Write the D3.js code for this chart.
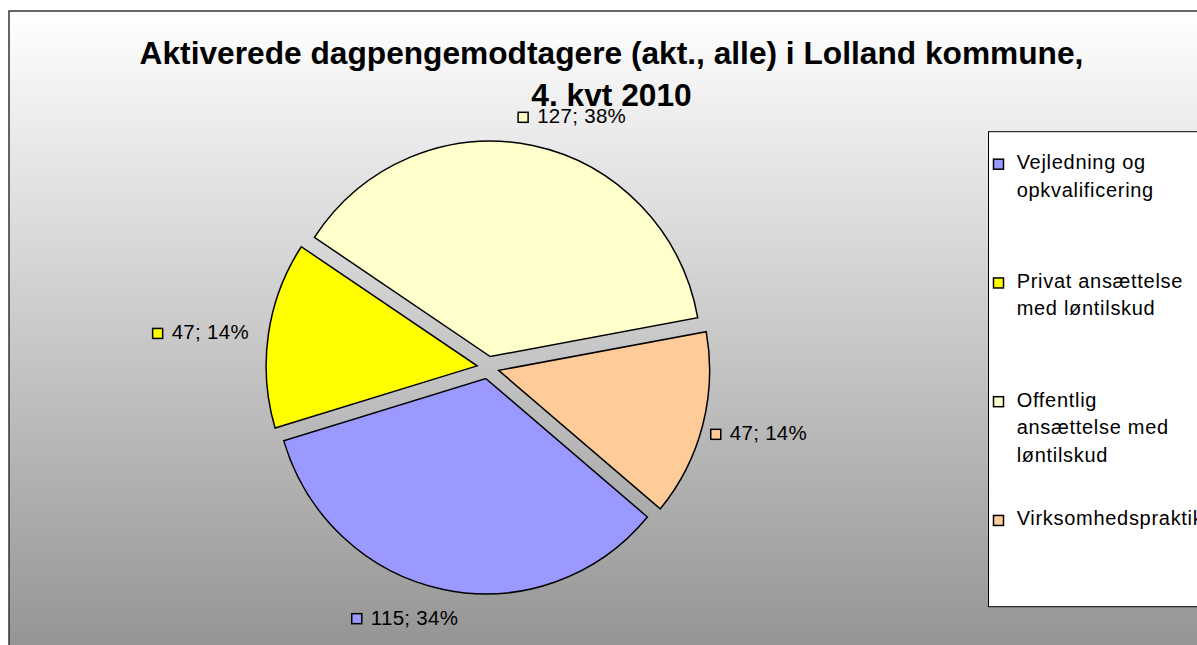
<!DOCTYPE html>
<html><head><meta charset="utf-8">
<script src="https://cdn.jsdelivr.net/npm/d3@7"></script>
<style>html,body{margin:0;padding:0;overflow:hidden;background:#fff}</style>
</head><body><svg id="c" width="1197" height="645"></svg>
<script>
// ---- data ----
const categories = ["Vejledning og opkvalificering", "Privat ansættelse med løntilskud", "Offentlig ansættelse med løntilskud", "Virksomhedspraktik"];
const legendLines = [["Vejledning og", "opkvalificering"], ["Privat ansættelse", "med løntilskud"], ["Offentlig", "ansættelse med", "løntilskud"], ["Virksomhedspraktik"]];
const values = [115, 47, 127, 47];
const colors = ["#9999FF", "#FFFF00", "#FFFFCC", "#FFCC99"];
const titleLines = ["Aktiverede dagpengemodtagere (akt., alle) i Lolland kommune,", "4. kvt 2010"];

// ---- layout (not data) ----
const W = 1197, H = 645;
const FONT = "'Liberation Sans', Arial, sans-serif";
const cx = 488, cy = 367.5, R = 211, yScale = 1.021, explode = 11;
const startDeg = 130;
const labelNudge = [[-26, 11], [-12, 0], [27, -13], [2, 3]];

const svg = d3.select("#c");
const defs = svg.append("defs");
const grad = defs.append("linearGradient").attr("id", "bg")
  .attr("gradientUnits", "userSpaceOnUse").attr("x1", 0).attr("y1", 11).attr("x2", 0).attr("y2", 645);
grad.append("stop").attr("offset", 0).attr("stop-color", "#ffffff");
grad.append("stop").attr("offset", 1).attr("stop-color", "#959595");

svg.append("rect").attr("x", 9).attr("y", 11).attr("width", 1200).attr("height", 660)
  .attr("fill", "url(#bg)").attr("stroke", "#333").attr("stroke-width", 1.5);

// title
svg.append("g").selectAll("text").data(titleLines).join("text")
  .attr("x", 611.5).attr("y", (d, i) => 64 + i * 41.5)
  .attr("text-anchor", "middle").attr("font-family", FONT).attr("font-weight", "bold")
  .attr("font-size", 31.7).attr("fill", "#000").text(d => d);

// pie
const total = d3.sum(values);
const pct = d3.format(".0%");
const pie = d3.pie().sort(null).value(d => d)
  .startAngle(startDeg * Math.PI / 180).endAngle((startDeg + 360) * Math.PI / 180);
const arcs = pie(values);
const arc = d3.arc().innerRadius(0).outerRadius(R);

const gPie = svg.append("g").attr("transform", `translate(${cx},${cy}) scale(1,${yScale})`);
gPie.selectAll("path").data(arcs).join("path")
  .attr("transform", d => {
    const a = (d.startAngle + d.endAngle) / 2;
    return `translate(${Math.sin(a) * explode},${-Math.cos(a) * explode})`;
  })
  .attr("d", arc)
  .attr("fill", (d, i) => colors[i])
  .attr("stroke", "#000").attr("stroke-width", 1.5)
  .attr("vector-effect", "non-scaling-stroke");

// data labels
const LFS = 20.5;
arcs.forEach((d, i) => {
  const a = (d.startAngle + d.endAngle) / 2;
  const dx = Math.sin(a), dy = -Math.cos(a);
  const g = svg.append("g");
  const t = g.append("text").attr("font-family", FONT).attr("font-size", LFS).attr("fill", "#000")
    .attr("letter-spacing", 0.3)
    .text(`${d.value}; ${pct(d.value / total)}`);
  const tw = t.node().getComputedTextLength();
  const bw = 11 + 8 + tw, bh = 18;
  const px = cx + dx * (R + explode) + dx * 8;
  const py = cy + dy * (R + explode) * yScale + dy * 8;
  const ccx = px + dx * bw / 2 + labelNudge[i][0];
  const ccy = py + dy * bh / 2 + labelNudge[i][1];
  const left = ccx - bw / 2, base = ccy + 7.5;
  g.append("rect").attr("x", left).attr("y", base - 11).attr("width", 10).attr("height", 10)
    .attr("fill", colors[i]).attr("stroke", "#000").attr("stroke-width", 1.5);
  t.attr("x", left + 19).attr("y", base);
});

// legend
const lx = 988.5, ly = 131.7, lh = 475;
svg.append("rect").attr("x", lx).attr("y", ly).attr("width", 300).attr("height", lh)
  .attr("fill", "#fff").attr("stroke", "#000").attr("stroke-width", 1);
const slot = lh / categories.length;
categories.forEach((c, i) => {
  const base = ly + i * slot + 37.5;
  const g = svg.append("g");
  g.append("rect").attr("x", 993.5).attr("y", base - 10).attr("width", 10).attr("height", 10)
    .attr("fill", colors[i]).attr("stroke", "#000").attr("stroke-width", 1.5);
  g.append("text").attr("font-family", FONT).attr("font-size", 20).attr("fill", "#000")
    .attr("letter-spacing", 0.7)
    .selectAll("tspan").data(legendLines[i]).join("tspan")
    .attr("x", 1016.7).attr("y", (l, j) => base + j * 27.5).text(l => l);
});
</script></body></html>
